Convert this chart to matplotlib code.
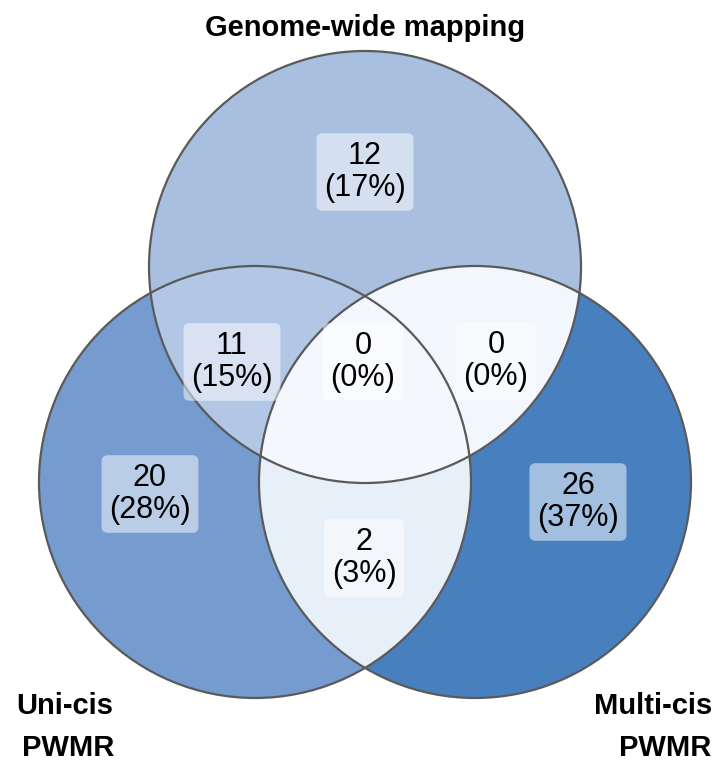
import numpy as np
import matplotlib
matplotlib.use("Agg")
from matplotlib import pyplot as plt
from matplotlib.patches import Circle, Polygon

# set names and region counts (T = genome-wide, L = uni-cis, R = multi-cis)
setNames = ["Genome-wide mapping", "Uni-cis\nPWMR", "Multi-cis\nPWMR"]
regions = ["T", "L", "R", "TL", "TR", "LR", "TLR"]
counts = [12, 20, 26, 11, 0, 2, 0]

total = sum(counts)
percents = [round(100.0 * c / total) for c in counts]

# layout (pixel coords, y down)
W, H = 722, 769
r = 216
centers = {"T": (365, 267), "L": (255, 482), "R": (475, 482)}
labelPos = {"T": (365, 172), "L": (150, 494), "R": (578, 502),
            "TL": (232, 362), "TR": (496, 361), "LR": (364, 558), "TLR": (363, 362)}
colors = {"T": "#a9bfe0", "L": "#769bce", "R": "#4880bf",
          "TL": "#b2c6e5", "TR": "#f2f7fd", "LR": "#e7eff9", "TLR": "#f4f8fe"}
edge = "#5a5a5a"

fig = plt.figure(figsize=(W / 100, H / 100), dpi=100)
ax = fig.add_axes([0, 0, 1, 1])
ax.set_xlim(0, W)
ax.set_ylim(H, 0)
ax.axis("off")


def circ(key, fc, **kw):
    return Circle(centers[key], r, facecolor=fc, edgecolor="none", **kw)


# single-set fills
circles = {}
for k in ["L", "R", "T"]:
    circles[k] = circ(k, colors[k])
    ax.add_patch(circles[k])

# pairwise intersections via clipping
p = ax.add_patch(circ("T", colors["TL"]))
p.set_clip_path(circles["L"])
p = ax.add_patch(circ("T", colors["TR"]))
p.set_clip_path(circles["R"])
p = ax.add_patch(circ("L", colors["LR"]))
p.set_clip_path(circles["R"])

# triple intersection: L∩R lens clipped by T
xl, cy = centers["L"]
xr = centers["R"][0]
a = np.arccos((xr - xl) / 2.0 / r)
t1 = np.linspace(-a, a, 200)
t2 = np.linspace(np.pi - a, np.pi + a, 200)
lens = np.vstack([np.column_stack([xl + r * np.cos(t1), cy + r * np.sin(t1)]),
                  np.column_stack([xr + r * np.cos(t2), cy + r * np.sin(t2)])])
p = ax.add_patch(Polygon(lens, closed=True, facecolor=colors["TLR"], edgecolor="none"))
p.set_clip_path(circles["T"])

# outlines
for k in ["T", "L", "R"]:
    ax.add_patch(Circle(centers[k], r, fill=False, edgecolor=edge, linewidth=1.6))

font = "Liberation Sans"
for reg, c, pc in zip(regions, counts, percents):
    x, y = labelPos[reg]
    ax.text(x, y, "%d\n(%d%%)" % (c, pc), ha="center", va="center",
            fontsize=22, family=font, color="black", linespacing=1.1,
            bbox=dict(boxstyle="round,pad=0.25,rounding_size=0.2",
                      facecolor="white", alpha=0.5, edgecolor="none"))

# set labels
ax.text(365, 28, setNames[0], ha="center", va="center", fontsize=21,
        family=font, fontweight="bold")
l1, l2 = setNames[1].split("\n")
ax.text(65, 706, l1, ha="center", va="center", fontsize=21, family=font, fontweight="bold")
ax.text(68, 748, l2, ha="center", va="center", fontsize=21, family=font, fontweight="bold")
m1, m2 = setNames[2].split("\n")
ax.text(712, 706, m1, ha="right", va="center", fontsize=21, family=font, fontweight="bold")
ax.text(711, 748, m2, ha="right", va="center", fontsize=21, family=font, fontweight="bold")

fig.savefig("out.png", dpi=100)
